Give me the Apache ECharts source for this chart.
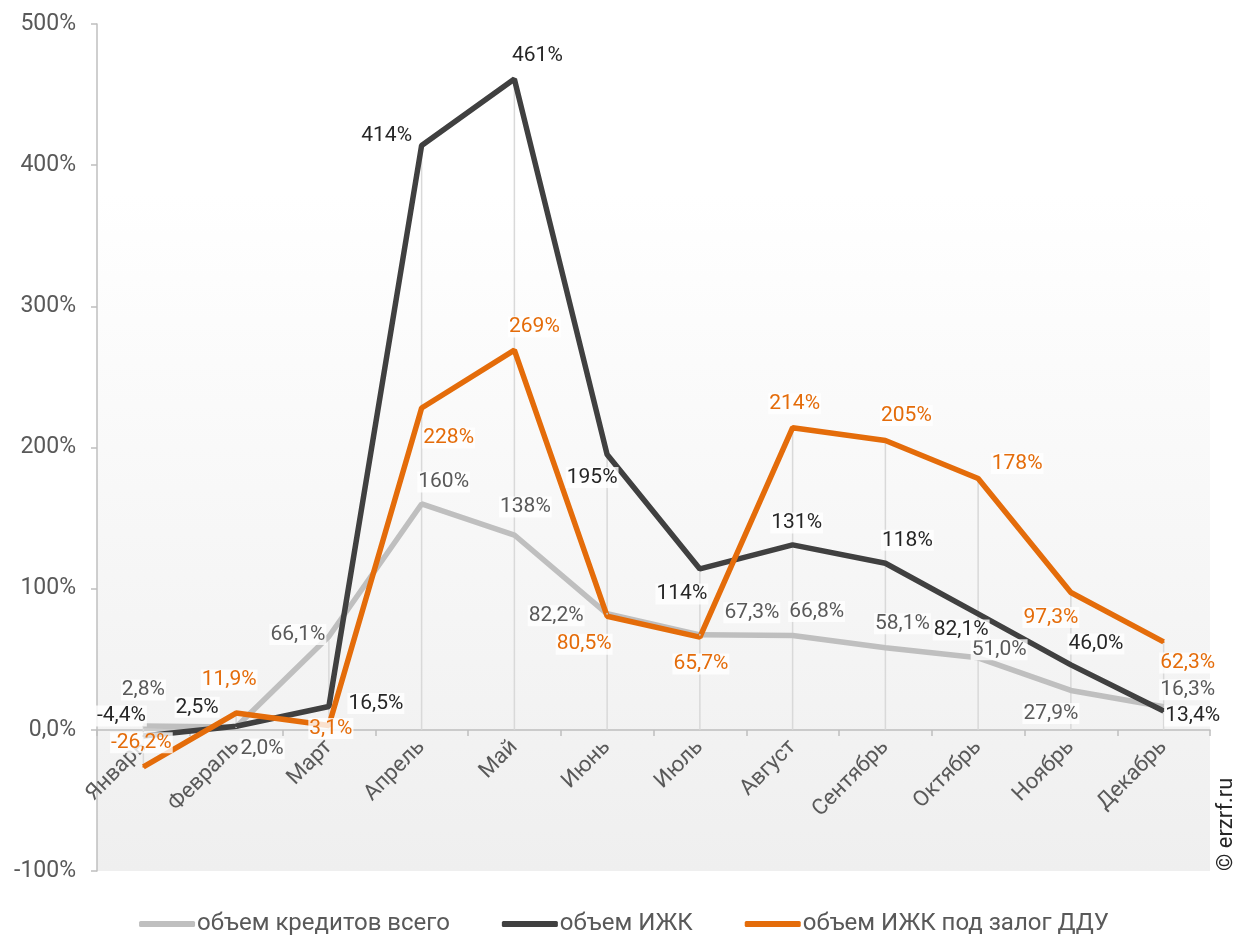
<!DOCTYPE html>
<html>
<head>
<meta charset="utf-8">
<script src="https://cdn.jsdelivr.net/npm/echarts@6/dist/echarts.min.js"></script>
<style>
  html, body { margin: 0; padding: 0; background: #fff; }
  #chart { width: 1248px; height: 936px; }
</style>
</head>
<body>
<div id="chart"></div>
<script>
// месяцы
const months = ['Январь', 'Февраль', 'Март', 'Апрель', 'Май', 'Июнь', 'Июль', 'Август', 'Сентябрь', 'Октябрь', 'Ноябрь', 'Декабрь'];

// значения, %
const totalLoans = [2.8, 2.0, 66.1, 160, 138, 82.2, 67.3, 66.8, 58.1, 51.0, 27.9, 16.3];
const izhk = [-4.4, 2.5, 16.5, 414, 461, 195, 114, 131, 118, 82.1, 46.0, 13.4];
const izhkDdu = [-26.2, 11.9, 3.1, 228, 269, 80.5, 65.7, 214, 205, 178, 97.3, 62.3];

const seriesNames = ['объем кредитов всего', 'объем ИЖК', 'объем ИЖК под залог ДДУ'];
const yTicks = [-100, 0, 100, 200, 300, 400, 500];

// сдвиги подписей (как в исходнике excel)
const totalLabelShift = [[0, -36], [26, 22], [-31, -2], [22, -22], [11, -28], [-51, 2], [52, -22], [24, -24], [17, -24], [21, -8], [-20, 23], [24, -17]];
const izhkLabelShift = [[-22, -20], [-39, -19], [47, -3], [-35, -10], [23, -23], [-15, 23], [-18, 25], [4, -22], [22, -23], [-17, 16], [25, -21], [29, 5]];
const dduLabelShift = [[-2, -24], [-7, -33], [2, 3], [27, 30], [20, -23], [-23, 28], [1, 27], [2, -24], [21, -25], [39, -15], [-20, 25], [24, 21]];

function fmt(v) {
    if (Math.abs(v) >= 100) return Math.round(v) + '%';
    return v.toFixed(1).replace('.', ',') + '%';
}

function withLabels(values, shifts) {
    return values.map((v, i) => ({
        value: v,
        label: { offset: shifts[i] }
    }));
}

function lineSeries(name, values, shifts, color, labelColor) {
    return {
        name: name,
        type: 'line',
        data: withLabels(values, shifts),
        symbol: 'circle',
        symbolSize: 2,
        itemStyle: { color: color },
        lineStyle: { color: color, width: 5.5 },
        z: 3,
        label: {
            show: true,
            position: 'inside',
            align: 'center',
            verticalAlign: 'middle',
            color: labelColor,
            fontFamily: 'Roboto',
            fontSize: 21,
            backgroundColor: 'rgba(255,255,255,0.8)',
            padding: [0, 1],
            formatter: p => fmt(p.value)
        },
        emphasis: { disabled: true }
    };
}

// вертикальные линии от точек до оси
const dropData = months.map((m, i) => {
    const vals = [totalLoans[i], izhk[i], izhkDdu[i]];
    return [i, Math.max(...vals), Math.min(0, ...vals)];
});

const myChart = echarts.init(document.getElementById('chart'), null, { renderer: 'canvas' });

const option = {
    animation: false,
    backgroundColor: '#ffffff',
    textStyle: { fontFamily: 'Roboto' },
    grid: {
        left: 97,
        right: 38,
        top: 24,
        bottom: 65,
        containLabel: false,
        outerBoundsMode: 'none',
        show: true,
        borderWidth: 0,
        backgroundColor: new echarts.graphic.LinearGradient(0, 0, 0, 1, [
            { offset: 0, color: '#ffffff' },
            { offset: 0.2, color: '#ffffff' },
            { offset: 1, color: '#efefef' }
        ])
    },
    legend: {
        data: seriesNames,
        top: 907,
        left: 'center',
        itemWidth: 56,
        itemHeight: 6,
        itemGap: 52,
        icon: 'roundRect',
        textStyle: { color: '#595959', fontSize: 24, fontFamily: 'Roboto', padding: [0, 0, 0, -3] }
    },
    xAxis: {
        type: 'category',
        data: months,
        boundaryGap: true,
        position: 'bottom',
        offset: -141,
        axisLine: { onZero: false, lineStyle: { color: '#bfbfbf', width: 1.5 } },
        axisTick: { show: true, length: 6, lineStyle: { color: '#bfbfbf', width: 1.5 } },
        axisLabel: { rotate: 45, color: '#595959', fontSize: 22, fontFamily: 'Roboto', margin: 14 },
        splitLine: { show: false }
    },
    yAxis: {
        type: 'value',
        min: -100,
        max: 500,
        interval: 100,
        axisLine: { show: true, lineStyle: { color: '#bfbfbf', width: 1.5 } },
        axisTick: { show: true, length: 6, lineStyle: { color: '#bfbfbf', width: 1.5 } },
        axisLabel: {
            color: '#595959', fontSize: 23, fontFamily: 'Roboto', margin: 21,
            formatter: v => yTicks.includes(v) ? (v === 0 ? '0,0%' : v + '%') : ''
        },
        splitLine: { show: false }
    },
    series: [
        {
            name: 'drop',
            type: 'custom',
            data: dropData,
            silent: true,
            z: 1,
            renderItem: (params, api) => {
                const top = api.coord([api.value(0), api.value(1)]);
                const bottom = api.coord([api.value(0), api.value(2)]);
                return {
                    type: 'line',
                    shape: { x1: top[0], y1: top[1], x2: bottom[0], y2: bottom[1] },
                    style: { stroke: '#d9d9d9', lineWidth: 1.5 }
                };
            }
        },
        lineSeries(seriesNames[0], totalLoans, totalLabelShift, '#bfbfbf', '#595959'),
        lineSeries(seriesNames[1], izhk, izhkLabelShift, '#404040', '#262626'),
        lineSeries(seriesNames[2], izhkDdu, dduLabelShift, '#e46c0a', '#e46c0a')
    ],
    graphic: [
        {
            type: 'text',
            x: 1226,
            y: 871,
            rotation: Math.PI / 2,
            style: {
                text: '© erzrf.ru',
                fontSize: 22,
                fontFamily: 'Roboto',
                fill: '#262626',
                textAlign: 'left',
                textVerticalAlign: 'middle'
            }
        }
    ]
};

myChart.setOption(option);
</script>
</body>
</html>
